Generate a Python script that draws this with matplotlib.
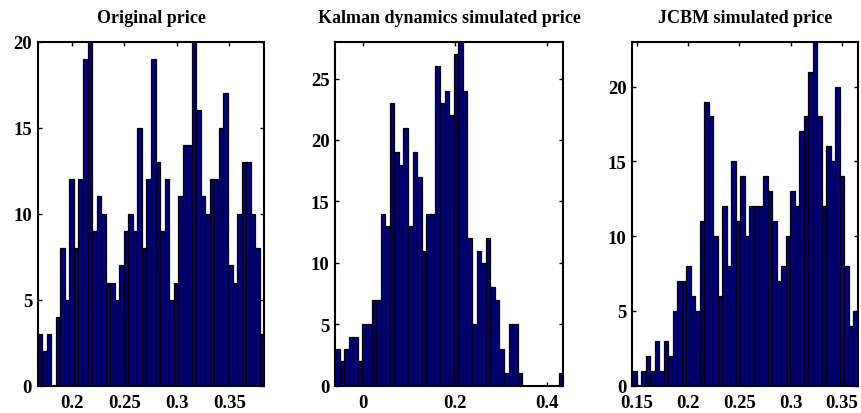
import matplotlib
matplotlib.use('Agg')
import matplotlib.pyplot as plt
import numpy as np

# histogram counts, 50 bins each, and the data range the bins span
orig_counts = [3, 2, 3, 0, 4, 8, 5, 12, 8, 12,
               19, 20, 9, 11, 10, 6, 6, 5, 7, 9,
               10, 9, 15, 8, 12, 19, 13, 9, 12, 5,
               6, 11, 14, 14, 20, 16, 11, 10, 12, 12,
               15, 17, 7, 6, 10, 13, 13, 10, 8, 3]
orig_range = (0.1676, 0.3833)

kalman_counts = [3, 2, 3, 4, 4, 2, 5, 5, 7, 7,
                 14, 13, 23, 19, 18, 21, 13, 19, 17, 11,
                 14, 14, 26, 23, 24, 22, 27, 28, 24, 12,
                 5, 11, 10, 12, 8, 7, 3, 1, 5, 5,
                 1, 0, 0, 0, 0, 0, 0, 0, 0, 1]
kalman_range = (-0.0615, 0.4365)

jcbm_counts = [1, 0, 1, 2, 1, 3, 1, 3, 2, 5,
               7, 7, 8, 6, 5, 11, 19, 18, 10, 6,
               12, 8, 15, 11, 14, 10, 12, 12, 12, 14,
               13, 11, 7, 8, 10, 13, 12, 17, 18, 21,
               23, 18, 12, 16, 15, 20, 14, 8, 4, 5]
jcbm_range = (0.1457, 0.3652)

titles = ['Original price', 'Kalman dynamics simulated price', 'JCBM simulated price']
xticks = [[0.2, 0.25, 0.3, 0.35], [0, 0.2, 0.4], [0.15, 0.2, 0.25, 0.3, 0.35]]
xticklabels = [['0.2', '0.25', '0.3', '0.35'], ['0', '0.2', '0.4'],
               ['0.15', '0.2', '0.25', '0.3', '0.35']]
yticks = [[0, 5, 10, 15, 20], [0, 5, 10, 15, 20, 25], [0, 5, 10, 15, 20]]
ylims = [20, 28, 23]

plt.rcParams['font.family'] = ['Liberation Serif', 'DejaVu Serif']
plt.rcParams['font.weight'] = 'bold'

fig = plt.figure(figsize=(8.62, 4.14), dpi=100)
positions = [[0.0437, 0.0659, 0.2629, 0.831],
             [0.3886, 0.0659, 0.2649, 0.831],
             [0.7335, 0.0659, 0.2615, 0.831]]

data = [(orig_counts, orig_range), (kalman_counts, kalman_range), (jcbm_counts, jcbm_range)]

for i, (counts, rng) in enumerate(data):
    ax = fig.add_axes(positions[i])
    edges = np.linspace(rng[0], rng[1], len(counts) + 1)
    ax.bar(edges[:-1], counts, width=np.diff(edges), align='edge',
           color='#000080', edgecolor='black', linewidth=0.9)
    ax.set_xlim(rng)
    ax.set_ylim(0, ylims[i])
    ax.set_xticks(xticks[i])
    ax.set_xticklabels(xticklabels[i])
    ax.set_yticks(yticks[i])
    ax.tick_params(direction='in', top=True, right=True, length=3,
                   width=1, labelsize=13.5)
    ax.tick_params(axis='x', pad=6)
    ax.tick_params(axis='y', pad=4)
    for lab in ax.get_xticklabels() + ax.get_yticklabels():
        lab.set_fontweight('bold')
    for sp in ax.spines.values():
        sp.set_linewidth(1.5)
    ax.set_title(titles[i], fontsize=13, fontweight='bold', pad=14)

fig.savefig('out.png', dpi=100)
